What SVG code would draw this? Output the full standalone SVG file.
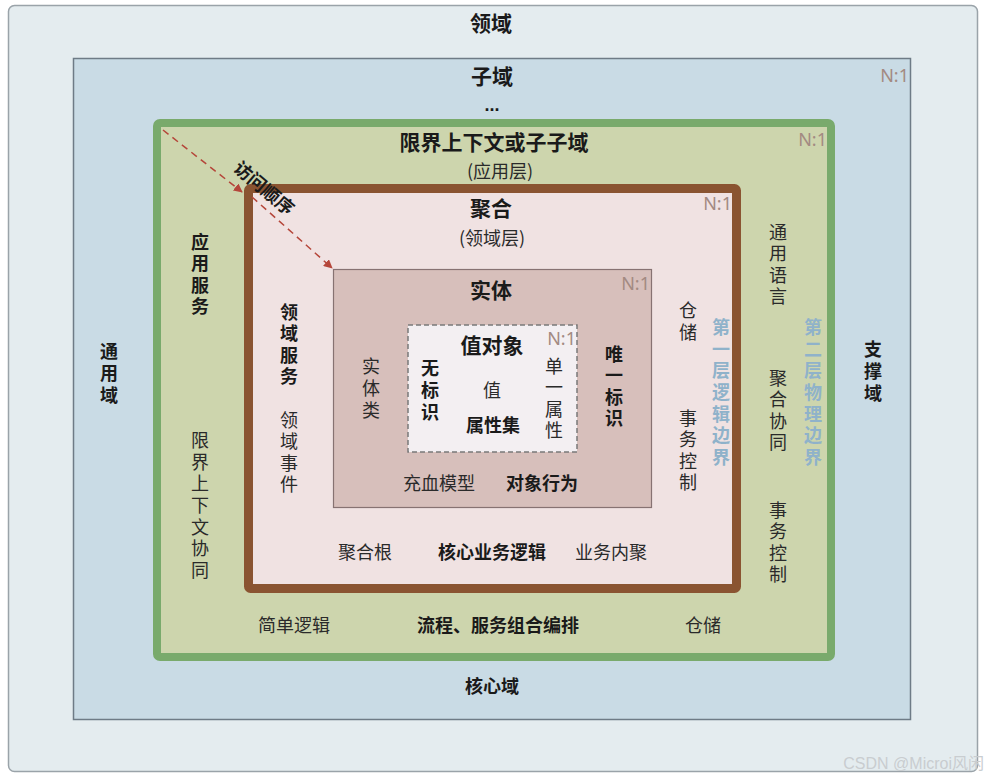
<svg xmlns="http://www.w3.org/2000/svg" width="987" height="780" viewBox="0 0 987 780">
<style>
text{font-family:"Noto Sans CJK SC","Liberation Sans",sans-serif;fill:#2a2a2a;text-anchor:middle;dominant-baseline:central}
.b{font-weight:bold;fill:#1a1a1a}
.t{font-size:21px}
.m{font-size:18px}
.v{font-size:18px;writing-mode:vertical-rl;letter-spacing:3.6px}
.n{font-family:"Noto Sans","Liberation Sans",sans-serif;font-size:18px;fill:#a38a82;text-anchor:end}
.bl{font-weight:bold;fill:#8fb2ca}
.wm{font-family:"Liberation Sans","Noto Sans CJK SC",sans-serif;font-size:16px;fill:#c9cdd0;text-anchor:end}
</style>
<defs>
<marker id="ah" viewBox="0 0 10 10" refX="9" refY="5" markerWidth="6" markerHeight="6" orient="auto">
<path d="M0,0 L10,5 L0,10 z" fill="#b5463a"/>
</marker>
</defs>
<rect width="987" height="780" fill="#ffffff"/>
<g id="domain">
<rect x="8.5" y="5.5" width="969" height="766" rx="6" fill="#e4ecef" stroke="#9aa3a9" stroke-width="1.5"/>
<text class="b t" x="491" y="22">领域</text>
</g>
<g id="subdomain">
<rect x="73.5" y="58.5" width="837" height="661" fill="#c9dbe5" stroke="#6e7b86" stroke-width="1.5"/>
<text class="b t" x="492" y="75">子域</text>
<text class="b m" x="492" y="105" style="font-family:'Liberation Sans',sans-serif">...</text>
<text class="n" x="909" y="75">N:1</text>
<text class="b v" x="109" y="375">通用域</text>
<text class="b v" x="873" y="373">支撑域</text>
<text class="b m" x="492" y="685">核心域</text>
</g>
<g id="bounded-context">
<rect x="157" y="123" width="674" height="534" rx="3" fill="#cdd5ad" stroke="#79aa6c" stroke-width="8"/>
<text class="b t" x="494" y="141">限界上下文或子子域</text>
<text class="m" x="500" y="170">(应用层)</text>
<text class="n" x="827" y="139">N:1</text>
<text class="b v" x="200" y="276">应用服务</text>
<text class="v" x="200" y="507">限界上下文协同</text>
<text class="v" x="778" y="266">通用语言</text>
<text class="v" x="778" y="412">聚合协同</text>
<text class="v" x="778" y="544">事务控制</text>
<text class="b v bl" x="813" y="394">第二层物理边界</text>
<text class="m" x="294" y="624">简单逻辑</text>
<text class="b m" x="498" y="624">流程、服务组合编排</text>
<text class="m" x="703" y="624">仓储</text>
</g>
<g id="aggregate">
<rect x="248.5" y="188.5" width="488" height="400" rx="2" fill="#f0e2e2" stroke="#8a5431" stroke-width="9"/>
<text class="b t" x="491" y="207">聚合</text>
<text class="m" x="492" y="237">(领域层)</text>
<text class="n" x="732" y="203">N:1</text>
<text class="b v" x="289" y="346">领域服务</text>
<text class="v" x="289" y="454">领域事件</text>
<text class="v" x="688" y="323">仓储</text>
<text class="v" x="688" y="452">事务控制</text>
<text class="b v bl" x="721" y="394">第一层逻辑边界</text>
<text class="m" x="365" y="551">聚合根</text>
<text class="b m" x="492" y="551">核心业务逻辑</text>
<text class="m" x="611" y="551">业务内聚</text>
</g>
<g id="entity">
<rect x="333.5" y="269.5" width="318" height="238" fill="#d7bfbb" stroke="#877272" stroke-width="1.2"/>
<text class="b t" x="491" y="289">实体</text>
<text class="n" x="650" y="283">N:1</text>
<text class="v" x="371" y="390">实体类</text>
<text class="b v" x="614" y="388">唯一标识</text>
<text class="m" x="439" y="482">充血模型</text>
<text class="b m" x="542" y="482">对象行为</text>
</g>
<g id="value-object">
<rect x="408" y="325" width="169" height="127" fill="#f3eff2" stroke="#7a7a7a" stroke-width="1.5" stroke-dasharray="5,3"/>
<text class="b t" x="492" y="344">值对象</text>
<text class="n" x="576" y="338">N:1</text>
<text class="b v" x="430" y="392">无标识</text>
<text class="m" x="492" y="389">值</text>
<text class="b m" x="493" y="424">属性集</text>
<text class="v" x="554" y="400">单一属性</text>
</g>
<g id="connectors">
<path d="M163,130 L242,192" fill="none" stroke="#b5463a" stroke-width="1.5" stroke-dasharray="7,5" marker-end="url(#ah)"/>
<path d="M252,197 L332,268" fill="none" stroke="#b5463a" stroke-width="1.5" stroke-dasharray="7,5" marker-end="url(#ah)"/>
<text class="b m" transform="translate(265,187) rotate(40)">访问顺序</text>
</g>
<text class="wm" x="984" y="763">CSDN @Microi风闲</text>
</svg>
